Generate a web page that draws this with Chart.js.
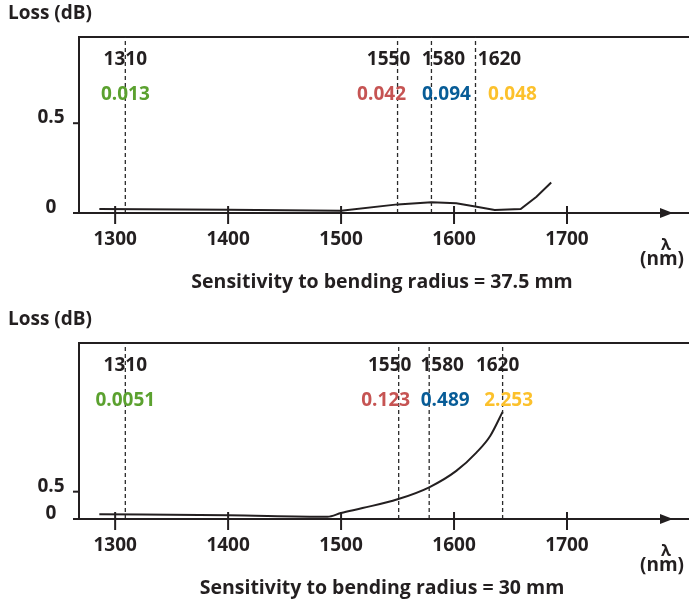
<!DOCTYPE html>
<html>
<head>
<meta charset="utf-8">
<script src="https://cdn.jsdelivr.net/npm/chart.js@4.4.1/dist/chart.umd.min.js"></script>
<style>
  body { margin: 0; background: #fff; }
  .box { position: relative; width: 689px; }
</style>
</head>
<body>
<div class="box" style="height:300px"><canvas id="chartA"></canvas></div>
<div class="box" style="height:302px"><canvas id="chartB"></canvas></div>
<script>
// wavelength markers
const markerLabels = ['1310', '1550', '1580', '1620'];
const markerColors = ['#5ba12f', '#c65453', '#075c97', '#fcc12c'];
const lossA = ['0.013', '0.042', '0.094', '0.048'];
const lossB = ['0.0051', '0.123', '0.489', '2.253'];
const markerNmA = [1309, 1550, 1580, 1619];
const markerNmB = [1309, 1551, 1578, 1643];

// curves
const curveNmA = [1286, 1400, 1500, 1550, 1580, 1602, 1620, 1636, 1659, 1673, 1686];
const curveDbA = [0.022, 0.018, 0.013, 0.048, 0.060, 0.054, 0.035, 0.017, 0.022, 0.09, 0.17];
const curveNmB = [1286, 1400, 1488, 1500, 1519, 1550, 1578, 1602, 1620, 1632, 1643];
const curveDbB = [0.086, 0.068, 0.042, 0.11, 0.20, 0.36, 0.58, 0.88, 1.22, 1.52, 1.96];

const xTicks = [1300, 1400, 1500, 1600, 1700];
const yTicks = [0, 0.5];
const yTickLabels = ['0', '0.5'];

const INK = '#231f20';
const FONT = '"Open Sans", "Noto Sans", sans-serif';

// draws the frame, axes, ticks and texts
const decor = {
    id: 'decor',
    beforeDatasetsDraw(chart) {
        const ctx = chart.ctx;
        const a = chart.chartArea;
        ctx.save();
        ctx.strokeStyle = INK;
        ctx.lineWidth = 2;
        ctx.beginPath();
        ctx.moveTo(a.left, a.bottom);
        ctx.lineTo(a.left, a.top);
        ctx.lineTo(chart.width, a.top);
        ctx.stroke();
        ctx.restore();
    },
    afterDatasetsDraw(chart, args, opts) {
        const ctx = chart.ctx;
        const a = chart.chartArea;
        const x = chart.scales.x;
        const y = chart.scales.y;
        const y0 = y.getPixelForValue(0);
        ctx.save();
        ctx.strokeStyle = INK;
        ctx.fillStyle = INK;
        ctx.lineWidth = 2;

        // x axis with arrow
        ctx.beginPath();
        ctx.moveTo(a.left - 6, y0);
        ctx.lineTo(chart.width, y0);
        ctx.stroke();
        ctx.beginPath();
        ctx.moveTo(660, y0 - 5);
        ctx.lineTo(673, y0);
        ctx.lineTo(660, y0 + 5);
        ctx.closePath();
        ctx.fill();

        // x ticks
        ctx.font = '700 19px ' + FONT;
        ctx.textAlign = 'center';
        ctx.textBaseline = 'middle';
        xTicks.forEach(v => {
            const px = x.getPixelForValue(v);
            ctx.beginPath();
            ctx.moveTo(px, y0 - 7);
            ctx.lineTo(px, y0 + 11);
            ctx.stroke();
            ctx.fillText(String(v), px, y0 + 27);
        });
        ctx.font = '700 16px ' + FONT;
        ctx.fillText('λ', 666, y0 + 32);
        ctx.font = '700 19px ' + FONT;
        ctx.fillText('(nm)', 662, y0 + 47);

        // y ticks
        yTicks.forEach((v, i) => {
            const py = y.getPixelForValue(v);
            if (v > 0) {
                ctx.beginPath();
                ctx.moveTo(a.left - 6, py);
                ctx.lineTo(a.left + 1, py);
                ctx.stroke();
            }
            ctx.textBaseline = 'alphabetic';
            ctx.fillText(yTickLabels[i], 51, py);
        });

        // marker labels
        ctx.textBaseline = 'middle';
        opts.markers.forEach((nm, i) => {
            const px = x.getPixelForValue(nm);
            ctx.fillStyle = INK;
            ctx.fillText(markerLabels[i], px + opts.nameShift[i], a.top + 23);
            ctx.fillStyle = markerColors[i];
            ctx.fillText(opts.values[i], px + opts.valueShift[i], a.top + 58);
        });

        // titles
        ctx.fillStyle = INK;
        ctx.textAlign = 'left';
        ctx.fillText('Loss (dB)', 8, a.top - 23);
        ctx.textAlign = 'center';
        ctx.font = '700 19.5px ' + FONT;
        ctx.fillText(opts.title, 382, y0 + 69);
        ctx.restore();
    }
};

function makeChart(id, cfg) {
    const markerSets = cfg.markers.map(nm => ({
        data: [{ x: nm, y: 0 }, { x: nm, y: cfg.yMax }],
        borderColor: '#2a2a2a',
        borderWidth: 1.3,
        borderDash: [4, 3],
        pointRadius: 0,
        tension: 0
    }));
    const curve = {
        data: cfg.nm.map((v, i) => ({ x: v, y: cfg.db[i] })),
        borderColor: INK,
        borderWidth: 2,
        pointRadius: 0,
        cubicInterpolationMode: cfg.smooth ? 'monotone' : 'default',
        tension: 0
    };
    return new Chart(document.getElementById(id), {
        type: 'line',
        data: { datasets: [...markerSets, curve] },
        options: {
            responsive: true,
            maintainAspectRatio: false,
            animation: false,
            layout: { padding: { left: 79, right: 0, top: cfg.top, bottom: cfg.bottom } },
            scales: {
                x: { type: 'linear', min: 1268, max: 1808, display: false },
                y: { type: 'linear', min: 0, max: cfg.yMax, display: false }
            },
            plugins: {
                legend: { display: false },
                tooltip: { enabled: false },
                decor: {
                    markers: cfg.markers,
                    values: cfg.values,
                    nameShift: cfg.nameShift,
                    valueShift: cfg.valueShift,
                    title: cfg.title
                }
            }
        },
        plugins: [decor]
    });
}

makeChart('chartA', {
    markers: markerNmA, values: lossA, nm: curveNmA, db: curveDbA, smooth: false,
    yMax: 0.98, top: 37, bottom: 87,
    nameShift: [0, -9, 12, 24], valueShift: [0, -16, 15, 37],
    title: 'Sensitivity to bending radius = 37.5 mm'
});
makeChart('chartB', {
    markers: markerNmB, values: lossB, nm: curveNmB, db: curveDbB, smooth: true,
    yMax: 3.22, top: 43, bottom: 83,
    nameShift: [0, -9, 13, -5], valueShift: [0, -13, 16, 6],
    title: 'Sensitivity to bending radius = 30 mm'
});
</script>
</body>
</html>
